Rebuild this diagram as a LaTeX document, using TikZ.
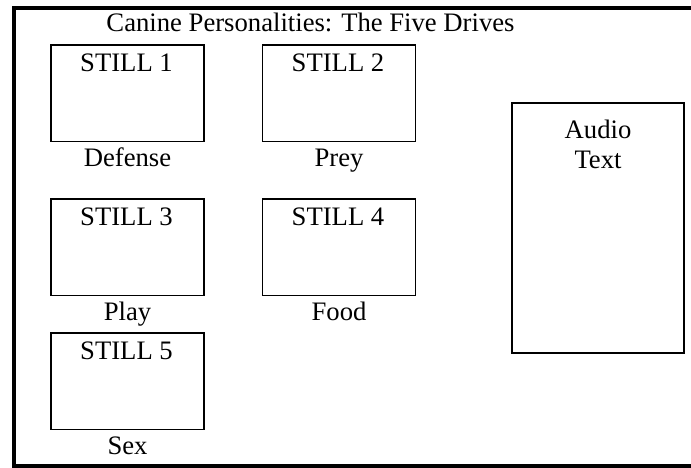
\documentclass[tikz,border=0pt]{standalone}
\usepackage{fontspec}
\setmainfont{Liberation Serif}
\begin{document}
\begin{tikzpicture}[x=0.75pt,y=-0.75pt,
  txt/.style={anchor=base, inner sep=0pt, font=\fontsize{20}{24}\selectfont},
  stillbox/.style={draw, line width=1.1pt, inner sep=0pt,
    minimum width=114.75pt, minimum height=72.5pt},
  audiobox/.style={draw, line width=1.3pt, inner sep=0pt,
    minimum width=129.5pt, minimum height=187pt},
  framebox/.style={draw, line width=3pt, inner sep=0pt}]
  \useasboundingbox (0,0) rectangle (691,467);

  % outer frame (right side runs past the page edge)
  \node[framebox, minimum width=514.5pt, minimum height=343.5pt] (frame) at (357,236.75) {};

  % title
  \node[txt] (title) at (310.5,31.7) {Canine Personalities: The Five Drives};

  % still frames
  \node[stillbox] (s1) at (127.5,93.4) {};
  \node[stillbox] (s2) at (339,93.4) {};
  \node[stillbox] (s3) at (127.5,247.4) {};
  \node[stillbox] (s4) at (339,247.4) {};
  \node[stillbox] (s5) at (127.5,381.3) {};

  % still titles
  \node[txt] (t1) at (126.5,71.7) {STILL 1};
  \node[txt] (t2) at (338,71.7) {STILL 2};
  \node[txt] (t3) at (126.5,225.7) {STILL 3};
  \node[txt] (t4) at (338,225.7) {STILL 4};
  \node[txt] (t5) at (126.5,359.6) {STILL 5};

  % drive labels
  \node[txt] (d1) at (127.5,166) {Defense};
  \node[txt] (d2) at (339,166) {Prey};
  \node[txt] (d3) at (127.5,320) {Play};
  \node[txt] (d4) at (339,320) {Food};
  \node[txt] (d5) at (127.5,454) {Sex};

  % audio panel
  \node[audiobox] (audio) at (598,228) {};
  \node[txt] (a1) at (598,138.3) {Audio};
  \node[txt] (a2) at (598,168.3) {Text};
\end{tikzpicture}
\end{document}
